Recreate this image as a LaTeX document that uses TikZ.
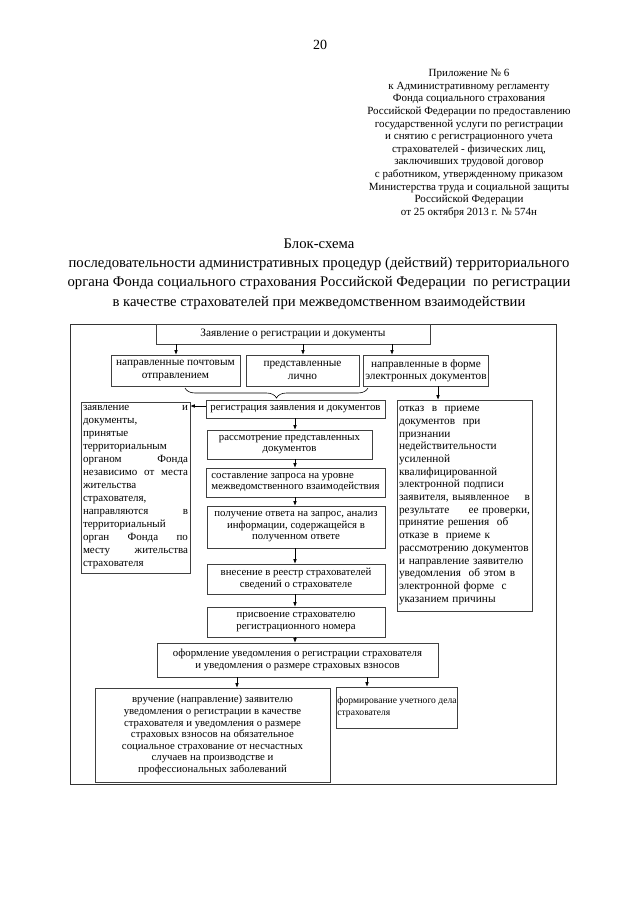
\documentclass[tikz,border=0pt]{standalone}
\usepackage{fontspec}
\setmainfont{Liberation Serif}
\usetikzlibrary{arrows.meta,decorations.pathreplacing}

\begin{document}
\begin{tikzpicture}[
    % 坐标单位:1 单位 = 1pt,y 轴向下
    x=1pt, y=-1pt,
    % 方框样式
    blok/.style={
        draw=black!75, % 边框颜色
        line width=0.6pt, % 边框宽度
        inner sep=2pt,
        align=center,
        font=\fontsize{10.8}{11.6}\selectfont
        },
    % 箭头样式
    strelka/.style={line width=0.6pt, -{Latex[length=4.5pt,width=3.6pt]}},
    % 标题文字样式
    shapka/.style={align=center, inner sep=0pt}
    ]
    % ========== 页面与外框 ==========
    \fill [white] (0,0) rectangle (640,905);
    \useasboundingbox (0,0) rectangle (640,905);
    \node [shapka, font=\fontsize{14}{16}\selectfont] (nomer) at (320,45) {20};
    \node [shapka, font=\fontsize{11}{12.6}\selectfont] (prilozh) at (469,143.5) {%
        Приложение № 6\\
        к Административному регламенту\\
        Фонда социального страхования\\
        Российской Федерации по предоставлению\\
        государственной услуги по регистрации\\
        и снятию с регистрационного учета\\
        страхователей - физических лиц,\\
        заключивших трудовой договор\\
        с работником, утвержденному приказом\\
        Министерства труда и социальной защиты\\
        Российской Федерации\\
        от 25 октября 2013 г. № 574н};
    \node [shapka, font=\fontsize{14.7}{19.3}\selectfont] (zagolovok) at (319,274) {%
        Блок-схема\\
        последовательности административных процедур (действий) территориального\\
        органа Фонда социального страхования Российской Федерации\ \ по регистрации\\
        в качестве страхователей при межведомственном взаимодействии};
    \draw [black!80, line width=0.7pt] (70,324) rectangle (556,784);
    % ========== 第一步:输入方框 ==========
    \node [blok, minimum width=274pt, minimum height=20pt, font=\fontsize{11.3}{12}\selectfont]
        (zayav) at (293,334) {Заявление о регистрации и документы};
    \foreach \name/\x/\w/\txt in {
        {pochta/175.5/129/направленные почтовым\\отправлением},
        {lichno/302.5/113/представленные\\лично},
        {elektr/426/118/направленные в форме\\электронных документов}} {
        \node [blok, minimum width=\w pt, minimum height=31pt, font=\fontsize{11.3}{12.4}\selectfont]
            (\name) at (\x,370.5) {\txt};
    }
    \foreach \name/\x in {pochta/176, lichno/303, elektr/392} {
        \draw [strelka] (zayav.south -| \x,0) -- (\name.north -| \x,0);
    }
    % 大括号
    \draw [line width=0.6pt, decorate, decoration={brace, mirror, amplitude=10pt}]
        (185,388) -- (368,388);
    % ========== 第二步:中间一列 ==========
    \foreach \name/\x/\y/\w/\h/\al/\txt in {
        {reg/295.5/409/179/18/center/регистрация заявления и документов},
        {rassm/289.5/444.5/165/29/center/рассмотрение представленных\\документов},
        {sost/295.5/482.5/179/29/left/составление запроса на уровне\\межведомственного взаимодействия},
        {poluch/296/527/178/42/center/получение ответа на запрос, анализ\\информации, содержащейся в\\полученном ответе},
        {vnes/296/579/178/30/center/внесение в реестр страхователей\\сведений о страхователе},
        {prisv/296/622/178/30/center/присвоение страхователю\\регистрационного номера}} {
        \node [blok, align=\al, minimum width=\w pt, minimum height=\h pt] (\name) at (\x,\y) {\txt};
    }
    \coordinate (kol) at (295,0);
    \foreach \a/\b in {reg/rassm, rassm/sost, sost/poluch, poluch/vnes, vnes/prisv} {
        \draw [strelka] (\a.south -| kol) -- (\b.north -| kol);
    }
    % ========== 第三步:左右两侧 ==========
    \node [blok, align=left, text width=105pt, minimum height=171pt,
        font=\fontsize{11}{13}\selectfont] (sleva) at (135.5,487.5) {%
        заявление\hfill и\\
        документы,\\
        принятые\\
        территориальным\\
        органом\hfill Фонда\\
        независимо\hfill от\hfill места\\
        жительства\\
        страхователя,\\
        направляются\hfill в\\
        территориальный\\
        орган\hfill Фонда\hfill по\\
        месту\hfill жительства\\
        страхователя};
    \node [blok, align=left, text width=131pt, minimum height=211pt,
        font=\fontsize{11.3}{12.7}\selectfont] (otkaz) at (464.5,505.5) {%
        отказ\ \ в\ \ приеме\\
        документов\ \ при\\
        признании\\
        недействительности\\
        усиленной\\
        квалифицированной\\
        электронной подписи\\
        заявителя, выявленное\hfill в\\
        результате\hfill ее проверки,\\
        принятие решения\ \ об\\
        отказе в\ \ приеме к\\
        рассмотрению документов\\
        и направление заявителю\\
        уведомления\ \ об этом в\\
        электронной форме\ \ с\\
        указанием причины};
    \draw [strelka] (reg.west |- 0,406) -- (sleva.east |- 0,406);
    \draw [strelka] (elektr.south -| 438,0) -- (otkaz.north -| 438,0);
    % ========== 第四步:底部方框 ==========
    \node [blok, minimum width=281pt, minimum height=34pt] (oform) at (297.5,660)
        {оформление уведомления о регистрации страхователя\\
        и уведомления о размере страховых взносов};
    \draw [strelka] (prisv.south -| kol) -- (oform.north -| kol);
    \node [blok, minimum width=235pt, minimum height=94pt] (vruch) at (212.5,735) {%
        вручение (направление) заявителю\\
        уведомления о регистрации в качестве\\
        страхователя и уведомления о размере\\
        страховых взносов на обязательное\\
        социальное страхование от несчастных\\
        случаев на производстве и\\
        профессиональных заболеваний};
    \node [blok, align=left, inner xsep=1pt, minimum width=120pt, minimum height=41pt,
        font=\fontsize{9.6}{12}\selectfont] (uchet) at (397,707.5)
        {формирование учетного дела\\страхователя};
    \foreach \name/\x in {vruch/237, uchet/367} {
        \draw [strelka] (oform.south -| \x,0) -- (\name.north -| \x,0);
    }
\end{tikzpicture}
\end{document}
